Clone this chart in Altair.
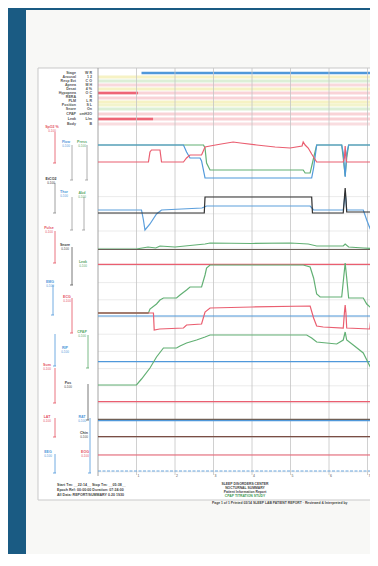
import altair as alt
import pandas as pd

# ------------------------------------------------------------------
# Data (read from the photographed overnight recording)
# time in hours from start, level in chart rows (0 = top of record)
# ------------------------------------------------------------------
hour_ticks = [1, 2, 3, 4, 5, 6, 7]
hour_labels = ["1", "2", "3", "4", "5", "6", "7"]

# event channel rows
band_levels = [9, 13, 17, 21, 25, 30, 34, 37, 41, 46, 51, 56]
band_colors = ["#f6f2c4", "#dcefd6", "#f9d9dc", "#f6f2c4", "#f9d3d7", "#f9d3d7",
               "#f6f2c4", "#f3f4cc", "#dcefd6", "#f9d3d7", "#f9d0d4", "#f9dde0"]
event_level = [5, 25, 51, 51]
event_start = [1.13, 0.0, 0.0, 7.10]
event_end = [7.19, 1.04, 1.43, 7.27]
event_color = ["#4f98da", "#ee6576", "#ee6576", "#ee6576"]

# channel 1 (blue / green / red)
c1_blue_t = [0, 2.22, 2.30, 2.39, 2.65, 2.69, 2.78, 5.55, 5.60, 5.68, 6.33, 6.37, 6.42, 6.46, 6.51, 7.27]
c1_blue_v = [77, 77, 84, 90, 90, 93, 110, 110, 100, 77, 77, 85, 109, 85, 77, 77]
c1_green_t = [0, 2.74, 2.78, 2.82, 2.91, 5.33, 5.38, 5.51, 5.60, 5.68, 6.33, 6.37, 6.42, 6.46, 6.51, 7.27]
c1_green_v = [77, 77, 80, 95, 102, 102, 105, 105, 90, 77, 77, 90, 108, 90, 77, 77]
c1_red_t = [0, 1.31, 1.35, 1.39, 1.61, 1.65, 2.22, 2.30, 2.39, 2.69, 2.78, 2.91, 3.2, 3.51, 3.7,
            4.12, 4.6, 4.99, 5.30, 5.33, 5.38, 5.46, 5.55, 5.68, 6.37, 6.40, 6.42, 6.44, 6.46, 7.27]
c1_red_v = [94, 94, 84, 82, 82, 94, 94, 90, 87, 87, 79, 78, 76, 74, 75,
            77, 79, 80, 78, 74, 77, 80, 86, 94, 94, 90, 78, 90, 94, 94]

# channel 2 (black / blue)
c2_black_t = [0, 2.76, 2.78, 5.55, 5.57, 6.37, 6.40, 6.42, 6.44, 6.46, 7.27]
c2_black_v = [145, 145, 129, 129, 145, 145, 130, 120, 130, 144, 144]
c2_blue_t = [0, 1.13, 1.18, 1.22, 1.35, 1.52, 1.65, 2.70, 2.82, 5.51, 5.60, 6.37, 6.42, 6.46,
             6.89, 6.98, 7.06, 7.15, 7.27]
c2_blue_v = [142, 142, 152, 162, 156, 146, 142, 140, 138, 138, 142, 142, 125, 142,
             142, 152, 160, 150, 144]

# channel 3 (dark / green / red)
c3_dark_t = [0, 7.27]
c3_dark_v = [181.5, 181.5]
c3_green_t = [0, 1.0, 1.3, 1.5, 1.61, 2.0, 2.78, 2.91, 4.0, 5.0, 5.46, 5.68, 6.37, 6.42, 6.51, 6.89, 7.27]
c3_green_v = [181, 181, 179, 180, 178, 179, 176, 175, 175.5, 175, 176, 178, 178, 176, 179, 180, 181]
c3_red_t = [0, 7.27]
c3_red_v = [196.3, 196.3]

# channel 4 (blue / green / red)
c4_blue_t = [0, 7.27]
c4_blue_v = [248, 248]
c4_green_t = [0, 1.31, 1.35, 1.52, 1.61, 1.70, 2.04, 2.13, 2.30, 2.39, 2.69, 2.78, 2.82, 2.91,
              5.33, 5.51, 5.60, 5.68, 5.77, 6.33, 6.38, 6.42, 6.46, 6.51, 6.89, 6.98, 7.15, 7.27]
c4_green_v = [245, 245, 241, 236, 232, 230, 230, 227, 222, 219, 219, 207, 200, 197,
              197, 199, 210, 226, 229, 229, 210, 195, 210, 230, 230, 236, 242, 245]
c4_red_t = [0, 1.44, 1.46, 1.6, 2.22, 2.30, 2.69, 2.78, 2.91, 4.0, 5.51, 5.60, 5.68, 5.85,
            6.37, 6.40, 6.42, 6.44, 6.46, 7.06, 7.10, 7.27]
c4_red_v = [245, 245, 262, 261, 260, 257, 256, 244, 240, 239, 238, 250, 258, 259,
            260, 245, 237, 245, 260, 261, 246, 244]
c4_dark_t = [0, 1.31]
c4_dark_v = [245, 245]

# channel 5 (blue / green)
c5_blue_t = [0, 7.27]
c5_blue_v = [293.7, 293.7]
c5_green_t = [0, 1.0, 1.13, 1.35, 1.52, 1.70, 2.04, 2.13, 2.30, 2.56, 2.78, 2.91, 5.42, 5.55,
              5.68, 6.20, 6.37, 6.42, 6.46, 6.63, 6.89, 7.15, 7.27]
c5_green_v = [317, 317, 311, 300, 289, 280, 280, 278, 275, 272, 269, 267, 267, 270,
              274, 276, 272, 264, 272, 277, 285, 305, 312]

# remaining flat channels
flat_levels = [333.7, 351.3, 352.7, 368.7, 387.0, 403.0]
flat_colors = ["#ea5e70", "#6f5f55", "#4f98da", "#7a4e45", "#ea5e70", "#6aa6de"]
flat_dash = [0, 0, 0, 0, 0, 1]

# left panel channel labels
chan_labels = ["SpO2 %", "Flow", "Press", "EtCO2", "Thor", "Abd", "Pulse", "Snore", "Leak",
               "EMG", "ECG", "CPAP", "RIP", "Sum", "Pos", "LAT", "RAT", "Chin", "EEG", "EOG"]
chan_label_colors = ["#e4505f", "#4f98da", "#5aaa6a", "#333333", "#4f98da", "#5aaa6a",
                     "#e4505f", "#444444", "#5aaa6a", "#4f98da", "#e4505f", "#5aaa6a",
                     "#4f98da", "#e4505f", "#444444", "#e4505f", "#4f98da", "#444444",
                     "#4f98da", "#e4505f"]
event_names = ["Stage", "Arousal", "Resp Evt", "Apnea", "Desat", "Hypopnea", "RERA",
               "PLM", "Position", "Snore", "CPAP", "Leak", "Body"]
event_units = ["W R", "1 2", "C O", "M H", "4 %", "O C", "R", "L R", "S L", "On",
               "cmH2O", "L/m", "B"]

# ------------------------------------------------------------------
# Layout (page pixels -> chart units)
# ------------------------------------------------------------------
PX_PER_H = 38.5
X0, Y0 = 98, 68
VIEW_W, VIEW_H = 272, 410


def tx(x):
    return (x - X0) / PX_PER_H


def ly(y):
    return y - Y0


T_RIGHT = VIEW_W / PX_PER_H

chan_label_pos = [(52, 127), (66, 142), (82, 142), (51, 179), (64, 192), (82, 193),
                  (49, 228), (65, 245), (83, 262), (50, 282), (67, 297), (82, 332),
                  (65, 348), (47, 365), (68, 383), (47, 417), (82, 417), (84, 433),
                  (48, 452), (85, 452)]
bar_pos = [(55, 132, 163, "#e4505f"), (72, 145, 180, "#999999"), (87, 145, 180, "#999999"),
           (55, 183, 213, "#888888"), (72, 197, 230, "#999999"), (84, 197, 230, "#999999"),
           (55, 231, 263, "#e4505f"), (72, 247, 285, "#555555"), (53, 285, 315, "#4f98da"),
           (72, 298, 333, "#e4505f"), (88, 335, 368, "#5aaa6a"), (55, 334, 366, "#4f98da"),
           (55, 368, 403, "#e4505f"), (88, 384, 420, "#555555"), (55, 418, 437, "#e4505f"),
           (90, 418, 473, "#4f98da"), (55, 454, 473, "#4f98da")]

xs = alt.Scale(domain=[0, T_RIGHT], nice=False, zero=False)
ys = alt.Scale(domain=[0, VIEW_H], nice=False, zero=False, reverse=True)
FONT = "Liberation Sans"


def X(f="t"):
    return alt.X(f"{f}:Q", scale=xs, axis=None)


def Y(f="v"):
    return alt.Y(f"{f}:Q", scale=ys, axis=None)


# ---------------- paper + frame ----------------
paper = alt.Chart(pd.DataFrame({"t": [tx(26)], "t2": [tx(386)], "v": [ly(10)], "v2": [ly(580)]})).mark_rect(
    fill="#f8f8f6", stroke=None).encode(x=X(), x2="t2:Q", y=Y(), y2="v2:Q")
frame = alt.Chart(pd.DataFrame({"t": [tx(38)], "t2": [tx(386)], "v": [ly(68)], "v2": [ly(500)]})).mark_rect(
    fill="#ffffff", stroke="#c9c9c9", strokeWidth=1).encode(x=X(), x2="t2:Q", y=Y(), y2="v2:Q")

# ---------------- grid ----------------
hgrid_levels = [59.8 + 17.2 * k for k in range(21)]
hgrid = alt.Chart(pd.DataFrame({"v": hgrid_levels[4:], "t": 0.0, "t2": 7.3})).mark_rule(
    color="#e3e3e3", strokeWidth=0.7).encode(y=Y(), x=X(), x2="t2:Q")
vgrid = alt.Chart(pd.DataFrame({"t": hour_ticks, "v": 0.0, "v2": ly(475)})).mark_rule(
    color="#c4c4c4", strokeWidth=0.8).encode(x=X(), y=Y(), y2="v2:Q")
left_border = alt.Chart(pd.DataFrame({"t": [0.0], "v": [0.0], "v2": [ly(476)]})).mark_rule(
    color="#9a9a9a", strokeWidth=0.9).encode(x=X(), y=Y(), y2="v2:Q")
tick_text = alt.Chart(pd.DataFrame({"t": hour_ticks, "lab": hour_labels, "v": ly(476)})).mark_text(
    fontSize=3.5, font=FONT, color="#555555", dx=2).encode(x=X(), y=Y(), text="lab:N")

# ---------------- event bands ----------------
bands = alt.Chart(pd.DataFrame({"v": band_levels, "c": band_colors, "t": 0.0, "t2": 7.3})).mark_rule(
    strokeWidth=3).encode(y=Y(), x=X(), x2="t2:Q", color=alt.Color("c:N", scale=None))
events = alt.Chart(pd.DataFrame({"v": event_level, "t": event_start, "t2": event_end, "c": event_color})).mark_rule(
    strokeWidth=2.6).encode(y=Y(), x=X(), x2="t2:Q", color=alt.Color("c:N", scale=None))

# ---------------- traces ----------------
series = [
    ("c1_green", c1_green_t, c1_green_v, "#62b074"),
    ("c1_blue", c1_blue_t, c1_blue_v, "#4f98da"),
    ("c1_red", c1_red_t, c1_red_v, "#ea5e70"),
    ("c2_blue", c2_blue_t, c2_blue_v, "#5c9fdc"),
    ("c2_black", c2_black_t, c2_black_v, "#2f2f2f"),
    ("c3_green", c3_green_t, c3_green_v, "#62b074"),
    ("c3_dark", c3_dark_t, c3_dark_v, "#6b6158"),
    ("c3_red", c3_red_t, c3_red_v, "#ea5e70"),
    ("c4_blue", c4_blue_t, c4_blue_v, "#4f98da"),
    ("c4_green", c4_green_t, c4_green_v, "#62b074"),
    ("c4_red", c4_red_t, c4_red_v, "#ea5e70"),
    ("c4_dark", c4_dark_t, c4_dark_v, "#7a5e48"),
    ("c5_blue", c5_blue_t, c5_blue_v, "#4f98da"),
    ("c5_green", c5_green_t, c5_green_v, "#62b074"),
]
rows = []
for name, ts, vs, col in series:
    for i, (t, v) in enumerate(zip(ts, vs)):
        rows.append({"s": name, "t": t, "v": v, "i": i, "c": col})
for k, (lv, col, d) in enumerate(zip(flat_levels, flat_colors, flat_dash)):
    if d:
        continue
    for i, t in enumerate([0.0, 7.27]):
        rows.append({"s": f"flat{k}", "t": t, "v": lv, "i": i, "c": col})
traces = alt.Chart(pd.DataFrame(rows)).mark_line(strokeWidth=1.2).encode(
    x=X(), y=Y(), detail="s:N", order="i:Q", color=alt.Color("c:N", scale=None))
dotted = alt.Chart(pd.DataFrame({"t": [0.0, 7.27], "v": [flat_levels[5]] * 2})).mark_line(
    strokeWidth=1.2, color=flat_colors[5], strokeDash=[3, 1.5]).encode(x=X(), y=Y())

# ---------------- left panel ----------------
bars = alt.Chart(pd.DataFrame({"t": [tx(b[0]) for b in bar_pos], "v": [ly(b[1]) for b in bar_pos],
                               "v2": [ly(b[2]) for b in bar_pos], "c": [b[3] for b in bar_pos]})).mark_rule(
    strokeWidth=0.8).encode(x=X(), y=Y(), y2="v2:Q", color=alt.Color("c:N", scale=None))
bar_feet = alt.Chart(pd.DataFrame({"t": [tx(b[0] - 2) for b in bar_pos], "t2": [tx(b[0] + 1) for b in bar_pos],
                                   "v": [ly(b[2]) for b in bar_pos], "c": [b[3] for b in bar_pos]})).mark_rule(
    strokeWidth=0.8).encode(x=X(), x2="t2:Q", y=Y(), color=alt.Color("c:N", scale=None))
clabels = alt.Chart(pd.DataFrame({"t": [tx(p[0]) for p in chan_label_pos], "v": [ly(p[1]) for p in chan_label_pos],
                                  "txt": chan_labels, "c": chan_label_colors})).mark_text(
    fontSize=3.6, font=FONT, fontWeight="bold").encode(x=X(), y=Y(), text="txt:N",
                                                       color=alt.Color("c:N", scale=None))
clabels2 = alt.Chart(pd.DataFrame({"t": [tx(p[0]) for p in chan_label_pos], "v": [ly(p[1] + 3.5) for p in chan_label_pos],
                                   "txt": ["0-100"] * len(chan_labels), "c": chan_label_colors})).mark_text(
    fontSize=3, font=FONT).encode(x=X(), y=Y(), text="txt:N", color=alt.Color("c:N", scale=None))

ev_y = [73, 77, 81, 85, 89, 93, 97, 101, 105, 109, 114, 119, 124]
ev_names = alt.Chart(pd.DataFrame({"t": tx(76), "v": [ly(y) for y in ev_y], "txt": event_names})).mark_text(
    fontSize=3.6, font=FONT, align="right", color="#555555", fontWeight="bold").encode(x=X(), y=Y(), text="txt:N")
ev_units = alt.Chart(pd.DataFrame({"t": tx(92), "v": [ly(y) for y in ev_y], "txt": event_units})).mark_text(
    fontSize=3.6, font=FONT, align="right", color="#555555", fontWeight="bold").encode(x=X(), y=Y(), text="txt:N")

# ---------------- footer text ----------------
foot_left = ["Start Tm: __22:14__   Stop Tm: __05:38__",
             "Epoch Ref: 00:00:00   Duration: 07:24:00",
             "All Data: REPORT/SUMMARY 0.20  1930"]
foot_center = ["SLEEP DISORDERS CENTER", "NOCTURNAL SUMMARY", "Patient Information Report", "CPAP TITRATION STUDY"]
fl = alt.Chart(pd.DataFrame({"t": tx(57), "v": [ly(485), ly(490), ly(495)], "txt": foot_left})).mark_text(
    fontSize=3.6, font=FONT, align="left", color="#444444", fontWeight="bold").encode(x=X(), y=Y(), text="txt:N")
fc = alt.Chart(pd.DataFrame({"t": tx(245), "v": [ly(484), ly(488), ly(492), ly(496)], "txt": foot_center,
                             "c": ["#444444", "#444444", "#444444", "#3f9a55"]})).mark_text(
    fontSize=3.4, font=FONT, align="center", fontWeight="bold").encode(x=X(), y=Y(), text="txt:N",
                                                                       color=alt.Color("c:N", scale=None))
fr = alt.Chart(pd.DataFrame({"t": [tx(212)], "v": [ly(503)],
                             "txt": ["Page 1 of 1  Printed 03/14  SLEEP LAB PATIENT REPORT  ·  Reviewed & Interpreted by"]})).mark_text(
    fontSize=3.4, font=FONT, align="left", color="#444444", fontWeight="bold").encode(x=X(), y=Y(), text="txt:N")

chart = alt.layer(
    paper, frame, hgrid, bands, events, vgrid, left_border, traces, dotted, tick_text,
    bars, bar_feet, clabels, clabels2, ev_names, ev_units, fl, fc, fr
).properties(
    width=VIEW_W, height=VIEW_H,
    background="#1a5b83",
    padding={"left": 90, "top": 60, "right": 0, "bottom": 76},
    autosize=alt.AutoSizeParams(type="none"),
).configure_view(stroke=None)

chart.save("out.html", embed_options={"renderer": "svg", "actions": False})
